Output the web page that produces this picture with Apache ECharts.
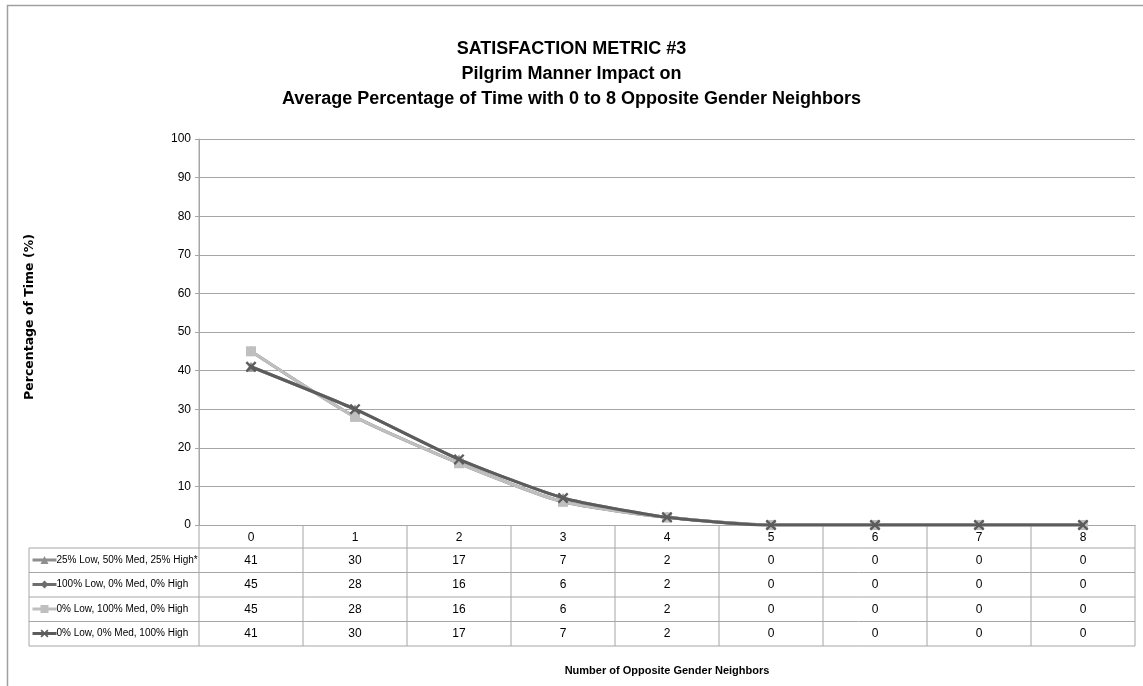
<!DOCTYPE html>
<html>
<head>
<meta charset="utf-8">
<script src="https://cdn.jsdelivr.net/npm/echarts@6/dist/echarts.min.js"></script>
<style>html,body{margin:0;padding:0;background:#fff}#c{width:1143px;height:686px}</style>
</head>
<body>
<div id="c"></div>
<script>
const titleLines = ['SATISFACTION METRIC #3', 'Pilgrim Manner Impact on', 'Average Percentage of Time with 0 to 8 Opposite Gender Neighbors'];
const categories = ['0', '1', '2', '3', '4', '5', '6', '7', '8'];
const seriesNames = ['25% Low, 50% Med, 25% High*', '100% Low, 0% Med, 0% High', '0% Low, 100% Med, 0% High', '0% Low, 0% Med, 100% High'];
const mixed = [41, 30, 17, 7, 2, 0, 0, 0, 0];
const allLow = [45, 28, 16, 6, 2, 0, 0, 0, 0];
const allMed = [45, 28, 16, 6, 2, 0, 0, 0, 0];
const allHigh = [41, 30, 17, 7, 2, 0, 0, 0, 0];
const seriesValues = [mixed, allLow, allMed, allHigh];
const yAxisName = 'Percentage of Time (%)';
const xAxisName = 'Number of Opposite Gender Neighbors';

const FONT = "'Liberation Sans', sans-serif";
const colors = ['#8e8e8e', '#6e6e6e', '#bfbfbf', '#5c5c5c'];
const xPath = 'path://M0,1.5 L1.5,0 L5,3.5 L8.5,0 L10,1.5 L6.5,5 L10,8.5 L8.5,10 L5,6.5 L1.5,10 L0,8.5 L3.5,5 Z';
const symbols = ['triangle', 'diamond', 'rect', xPath];
const symbolSizes = [10, 10, 10, 11];

const GRID = { left: 199, right: 8, top: 139, bottom: 161 };
const rowTops = [548, 572.5, 597, 621.5, 646];
const tableLeft = 29;
const lineColor = '#a6a6a6';

const chart = echarts.init(document.getElementById('c'), null, { renderer: 'canvas' });

chart.setOption({
  backgroundColor: '#fff',
  animation: false,
  textStyle: { fontFamily: FONT },
  title: titleLines.map((t, i) => ({
    text: t, left: 'center', top: 35 + i * 25,
    textStyle: { fontFamily: FONT, fontSize: 18, fontWeight: 'bold', color: '#000' }
  })),
  grid: GRID,
  legend: {
    orient: 'vertical', left: 31, top: 553, padding: 0,
    itemWidth: 24, itemHeight: 10, itemGap: 10.5,
    data: seriesNames,
    lineStyle: { width: 3 },
    textStyle: { fontFamily: FONT, fontSize: 10, color: '#000', lineHeight: 14, padding: [0, 0, 0, -5] },
    selectedMode: false
  },
  xAxis: {
    type: 'category', data: categories, boundaryGap: true,
    name: xAxisName, nameLocation: 'middle', nameGap: 140,
    nameTextStyle: { fontFamily: FONT, fontSize: 11, fontWeight: 'bold', color: '#000' },
    axisLine: { lineStyle: { color: lineColor } },
    axisTick: { show: false },
    axisLabel: { fontFamily: FONT, fontSize: 12, color: '#000', margin: 7 }
  },
  yAxis: {
    type: 'value', min: 0, max: 100, interval: 10,
    name: yAxisName, nameLocation: 'middle', nameGap: 163, nameRotate: 90,
    nameTextStyle: { fontFamily: "'DejaVu Sans', sans-serif", fontSize: 12.5, fontWeight: 'bold', color: '#000', padding: [0, 0, 0, 30] },
    axisLine: { show: true, lineStyle: { color: lineColor } },
    axisTick: { show: true, length: 4, lineStyle: { color: lineColor } },
    axisLabel: { fontFamily: FONT, fontSize: 12, color: '#000', margin: 8 },
    splitLine: { lineStyle: { color: lineColor, width: 1 } }
  },
  series: seriesNames.map((n, i) => ({
    name: n, type: 'line', data: seriesValues[i],
    smooth: 0.2, symbol: symbols[i], symbolSize: symbolSizes[i],
    lineStyle: { color: colors[i], width: 3 },
    itemStyle: { color: colors[i] },
    z: 2 + (i === 3 ? 3 : i === 0 ? 1 : i === 2 ? 2 : 0)
  }))
});

function buildTable() {
  const centers = categories.map((c, i) => chart.convertToPixel({ xAxisIndex: 0 }, i));
  const band = centers[1] - centers[0];
  const bounds = [centers[0] - band / 2].concat(centers.map(c => c + band / 2));
  const axisY = chart.convertToPixel({ yAxisIndex: 0 }, 0);
  const topY = chart.convertToPixel({ yAxisIndex: 0 }, 100);
  const bottom = rowTops[rowTops.length - 1];
  const els = [];
  const ls = { stroke: lineColor, lineWidth: 1 };
  els.push({ type: 'rect', shape: { x: 7.5, y: 5.5, width: 1160, height: 720 }, style: { fill: null, stroke: '#a0a0a0', lineWidth: 1.5 }, silent: true, z: 0 });
  rowTops.forEach(y => {
    els.push({ type: 'line', shape: { x1: tableLeft, y1: y, x2: bounds[bounds.length - 1], y2: y }, style: ls, silent: true });
  });
  els.push({ type: 'line', shape: { x1: tableLeft, y1: rowTops[0], x2: tableLeft, y2: bottom }, style: ls, silent: true });
  bounds.forEach((x, k) => {
    const y1 = k === 0 ? topY : axisY;
    els.push({ type: 'line', shape: { x1: x, y1: y1, x2: x, y2: bottom }, style: ls, silent: true });
  });
  seriesValues.forEach((vals, r) => {
    const cy = (rowTops[r] + rowTops[r + 1]) / 2;
    vals.forEach((v, i) => {
      els.push({ type: 'text', x: centers[i], y: cy, style: { text: String(v), fontFamily: FONT, fontSize: 12, fill: '#000', align: 'center', verticalAlign: 'middle' }, silent: true });
    });
  });
  chart.setOption({ graphic: els });
}
buildTable();
</script>
</body>
</html>
